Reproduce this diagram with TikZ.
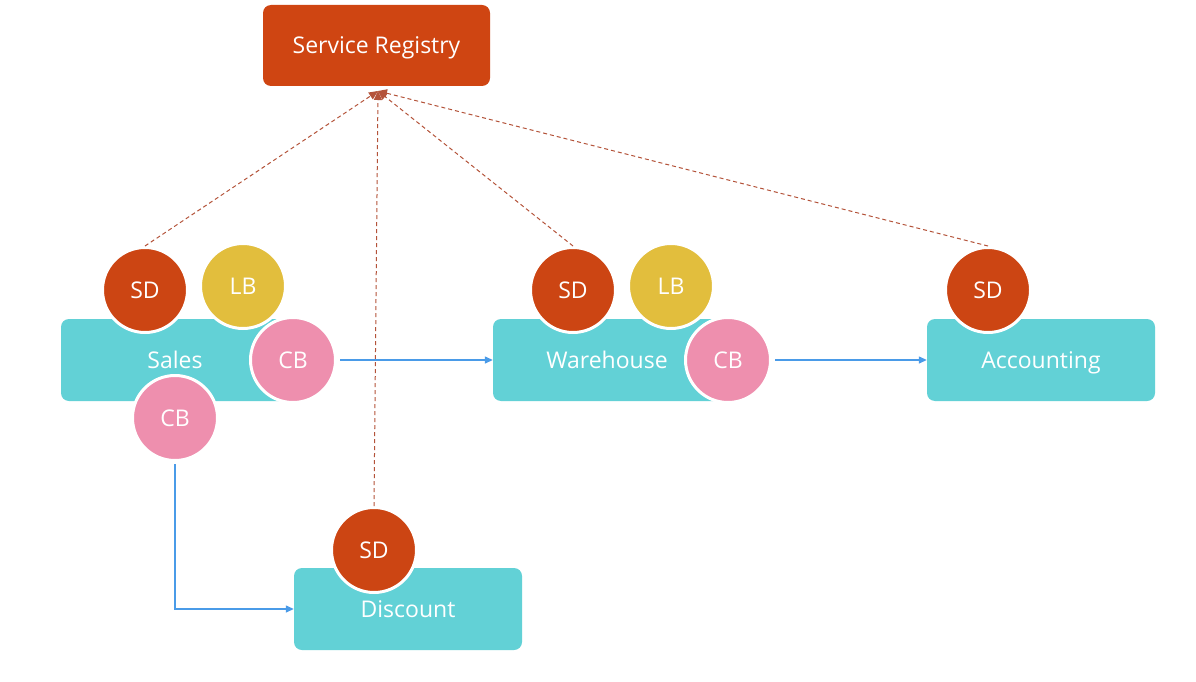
\documentclass[tikz,border=0pt]{standalone}
\usepackage{fontspec}
\setmainfont{Open Sans}
\usetikzlibrary{arrows.meta,calc}
\definecolor{regc}{HTML}{CF4512}
\definecolor{sdc}{HTML}{CC4513}
\definecolor{lbc}{HTML}{E2BE3D}
\definecolor{cbc}{HTML}{EE8FAE}
\definecolor{svc}{HTML}{62D1D6}
\definecolor{bluec}{HTML}{4A9BE8}
\definecolor{dashc}{HTML}{B4533A}
\tikzset{
  bigtext/.style={text=white, font=\fontsize{23}{26}\selectfont, text height=16.5pt, text depth=0pt},
  svcbox/.style={fill=svc, rounded corners=8pt, minimum width=228pt, minimum height=82pt, inner sep=0pt, bigtext},
  regbox/.style={fill=regc, rounded corners=8pt, minimum width=227pt, minimum height=81pt, inner sep=0pt, bigtext},
  badge/.style={circle, draw=white, line width=3pt, minimum size=85pt, inner sep=0pt, bigtext},
  sdnode/.style={badge, fill=sdc},
  lbnode/.style={badge, fill=lbc},
  cbnode/.style={badge, fill=cbc},
  flow/.style={draw=bluec, line width=1.3pt, -{Triangle[length=8pt,width=7pt]}},
  reglink/.style={draw=dashc, line width=1pt, dash pattern=on 4pt off 3pt, -{Triangle[length=9pt,width=8pt]}}
}
\begin{document}
\begin{tikzpicture}[x=1pt,y=-1pt]
\fill[white] (0,0) rectangle (1196,682);
\useasboundingbox (0,0) rectangle (1196,682);

\node[regbox] (reg) at (376.5,45.5) {Service Registry};
\coordinate (hub) at (378,91);

% service boxes
\node[svcbox] (sales) at (175,360) {Sales};
\node[svcbox] (wh) at (607,360) {Warehouse};
\node[svcbox] (acc) at (1041,360) {Accounting};
\node[svcbox] (disc) at (408,609) {Discount};

% badges
\node[sdnode] (sd1) at (145,290) {SD};
\node[lbnode] (lb1) at (243,286) {LB};
\node[cbnode] (cb1) at (293,360) {CB};
\node[cbnode] (cb2) at (175,418) {CB};

\node[sdnode] (sd2) at (573,290) {SD};
\node[lbnode] (lb2) at (671,286) {LB};
\node[cbnode] (cb3) at (728,360) {CB};

\node[sdnode] (sd3) at (988,290) {SD};
\node[sdnode] (sd4) at (374,550) {SD};

% registry links
\draw[reglink] (sd1.north) -- (hub);
\draw[reglink] (sd4.north) -- (hub);
\draw[reglink] (sd2.north) -- (hub);
\draw[reglink] (sd3.north) -- (hub);

% flows
\draw[flow, shorten <=3pt] (cb1.east) -- (wh.west);
\draw[flow, shorten <=3pt] (cb3.east) -- (acc.west);
\draw[flow, shorten <=2pt] (cb2.south) |- (disc.west);
\end{tikzpicture}
\end{document}
